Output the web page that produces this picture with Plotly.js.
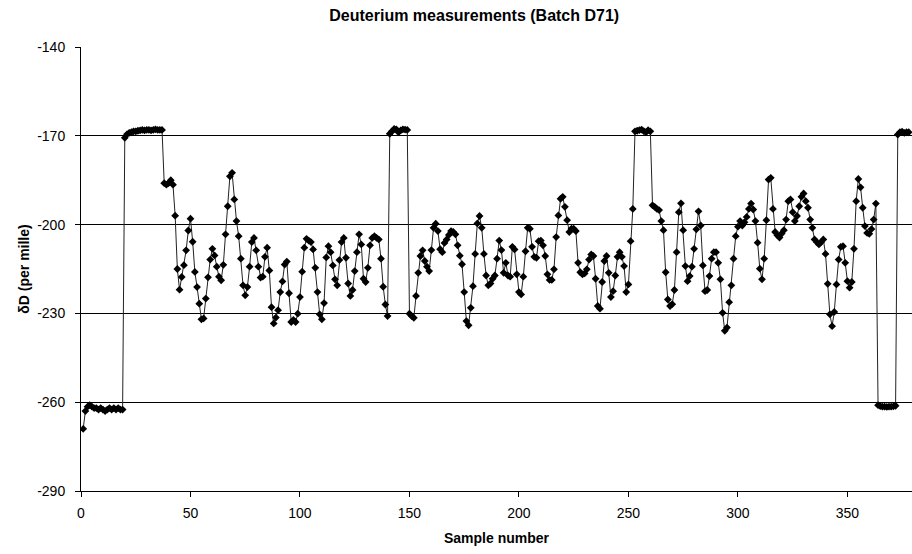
<!DOCTYPE html>
<html>
<head>
<meta charset="utf-8">
<script src="https://cdn.plot.ly/plotly-3.0.1.min.js"></script>
<style>
  html, body { margin: 0; padding: 0; background: #fff; }
  #chart { width: 912px; height: 554px; }
</style>
</head>
<body>
<div id="chart"></div>
<script>
// δD values (per mille), read sample by sample from the reference, split in blocks
const deltaD_001_050 = [
  -269, -263, -261.5, -261, -261.5, -262, -262, -262.5, -262, -262.5,
  -263, -262.5, -262, -262.5, -262, -262.5, -262, -262.5, -262.5, -170.7,
  -169.5, -169, -168.8, -168.5, -168.5, -168.3, -168.2, -168, -168.2, -168,
  -168, -168.2, -168, -167.8, -168, -168, -168, -186, -186.5, -186,
  -185, -186.5, -197, -215, -222, -217.7, -213.7, -208.7, -202, -198
];
const deltaD_051_100 = [
  -205.8, -216, -221.1, -226.7, -232, -231.7, -225, -217.8, -211.8, -208.2,
  -210.4, -214.2, -217.6, -218.8, -213.6, -203.3, -193.8, -183.7, -182.5, -191.5,
  -198.8, -203.9, -211.5, -220.5, -223.9, -221.1, -214.2, -205.9, -204.5, -208.7,
  -214.2, -217.9, -217.6, -210.9, -207.8, -215.5, -227.9, -233.4, -231.4, -228.9,
  -222.8, -219.2, -213.5, -212.5, -223.2, -232.9, -232.2, -232.9, -230.1, -224.5
];
const deltaD_101_150 = [
  -215.9, -207.8, -204.8, -205.4, -205.9, -208.4, -214.6, -222.8, -230.3, -232,
  -226.5, -211.1, -207.3, -209.3, -213.8, -218.5, -220.5, -212, -205.9, -204.5,
  -211.2, -219.9, -224.1, -222.1, -215.7, -209.3, -203.3, -206.7, -218.3, -219.4,
  -214.6, -207, -204.5, -203.9, -204.5, -205, -211.5, -221, -227, -230.9,
  -169.3, -168.5, -167.7, -167.8, -168.8, -168.2, -167.8, -167.9, -168, -230.1
];
const deltaD_151_200 = [
  -230.9, -231.5, -224.1, -216.3, -210.6, -208.7, -212.3, -214.2, -215.7, -208.6,
  -201.1, -199.7, -202.2, -208.3, -209.3, -206.2, -205, -203.5, -202.2, -202.5,
  -203.3, -207, -210.5, -213.4, -222.8, -232.6, -234, -228.1, -220.8, -209.9,
  -199.6, -197.1, -201.1, -209.9, -217.2, -220.5, -219.9, -218.3, -217.2, -211.5,
  -205.4, -208.6, -216.3, -212.9, -217.2, -217.6, -207.5, -208.4, -216.8, -222.8
];
const deltaD_201_250 = [
  -223.6, -217.6, -209, -201.1, -201.4, -207.5, -210.9, -211.2, -205.6, -205.4,
  -207, -210.6, -216.8, -218.7, -218.7, -215.1, -204.2, -196.9, -191.3, -190.6,
  -194, -198.5, -202.5, -201.4, -201.4, -202.2, -212.9, -216.1, -216.8, -216.5,
  -215.1, -211.8, -210.1, -210.6, -218.3, -227.5, -228.4, -219.4, -212.3, -210.6,
  -216.3, -224.5, -222.5, -217.2, -210.9, -209.3, -210.9, -214, -222.8, -220.2
];
const deltaD_251_300 = [
  -205.6, -194.7, -168.5, -168.3, -168.1, -167.9, -168.4, -168.8, -168.1, -168.5,
  -193.5, -194, -194.7, -195.1, -198.8, -201.9, -216.1, -225.3, -227.5, -226.9,
  -222.1, -209.3, -195.8, -192.8, -201.9, -214, -219.1, -217.4, -214.2, -208.2,
  -201.6, -195.5, -200.3, -213.8, -222.5, -222.1, -217.4, -211.5, -209.3, -209.3,
  -212.9, -218.5, -229.8, -235.9, -234.8, -226.2, -220.5, -211.5, -203.9, -200.7
];
const deltaD_301_350 = [
  -198.8, -200.3, -199.2, -197.4, -194.7, -192.9, -194.9, -198.8, -206.1, -214.9,
  -218.5, -211.5, -198.5, -184.8, -184.2, -194.7, -202.5, -203.6, -204.4, -203,
  -201.9, -198.3, -192.1, -191.5, -195.8, -198.8, -197.1, -193.8, -190.6, -189.5,
  -192.1, -194.3, -198.3, -201.1, -205, -205.9, -206.7, -205.9, -205, -209.9,
  -220, -230.3, -234.3, -229.5, -220.2, -211.8, -207.5, -207.3, -212.9, -219.1
];
const deltaD_351_378 = [
  -221.3, -219.4, -208.2, -192.1, -184.6, -187.4, -194.3, -200.5, -202.8, -203.1,
  -201.5, -198.3, -192.9, -261, -261.3, -261.5, -261.5, -261.6, -261.5, -261.5,
  -261.4, -261.2, -169.6, -168.8, -168.6, -169, -168.8, -168.8
];

const xTickVals = [0, 50, 100, 150, 200, 250, 300, 350];
const yTickVals = [-290, -260, -230, -200, -170, -140];
const yTickText = ['-290', '-260', '-230', '-200', '-170', '-140'];

const deltaD = [].concat(deltaD_001_050, deltaD_051_100, deltaD_101_150, deltaD_151_200,
                         deltaD_201_250, deltaD_251_300, deltaD_301_350, deltaD_351_378);
const sampleNumber = deltaD.map((_, i) => i + 1);

const FONT = 'Arial, "Liberation Sans", sans-serif';

const trace = {
  type: 'scatter',
  mode: 'lines+markers',
  x: sampleNumber,
  y: deltaD,
  line: { color: '#222', width: 1 },
  marker: { symbol: 'diamond', size: 6, color: '#000' },
  hoverinfo: 'x+y',
  showlegend: false
};

const layout = {
  width: 912,
  height: 554,
  margin: { l: 81, r: 0, t: 47, b: 63 },
  paper_bgcolor: '#fff',
  plot_bgcolor: '#fff',
  font: { family: FONT, size: 14, color: '#000' },
  title: {
    text: '<b>Deuterium measurements (Batch D71)</b>',
    font: { family: FONT, size: 16, color: '#000' },
    x: 0.52, xref: 'container', xanchor: 'center',
    y: 0.972, yref: 'container', yanchor: 'middle'
  },
  xaxis: {
    range: [0, 379.5],
    tickmode: 'array',
    tickvals: xTickVals,
    ticks: 'outside',
    ticklen: 5,
    tickcolor: '#000',
    showline: true,
    linecolor: '#000',
    linewidth: 1,
    showgrid: false,
    zeroline: false,
    ticklabelstandoff: 4,
    tickfont: { family: FONT, size: 14, color: '#000' },
    title: {
      text: '<b>Sample number</b>',
      font: { family: FONT, size: 14, color: '#000' },
      standoff: 13
    }
  },
  yaxis: {
    range: [-290, -140],
    tickmode: 'array',
    tickvals: yTickVals,
    ticktext: yTickText,
    ticks: 'outside',
    ticklen: 5,
    tickcolor: '#000',
    showline: true,
    linecolor: '#000',
    linewidth: 1,
    showgrid: true,
    gridcolor: '#000',
    gridwidth: 1,
    zeroline: false,
    ticklabelstandoff: 7,
    tickfont: { family: FONT, size: 14, color: '#000' },
    title: {
      text: '<b>δD (per mille)</b>',
      font: { family: FONT, size: 14, color: '#000' },
      standoff: 4
    }
  }
};

Plotly.newPlot('chart', [trace], layout, { displayModeBar: false, staticPlot: true });
</script>
</body>
</html>
